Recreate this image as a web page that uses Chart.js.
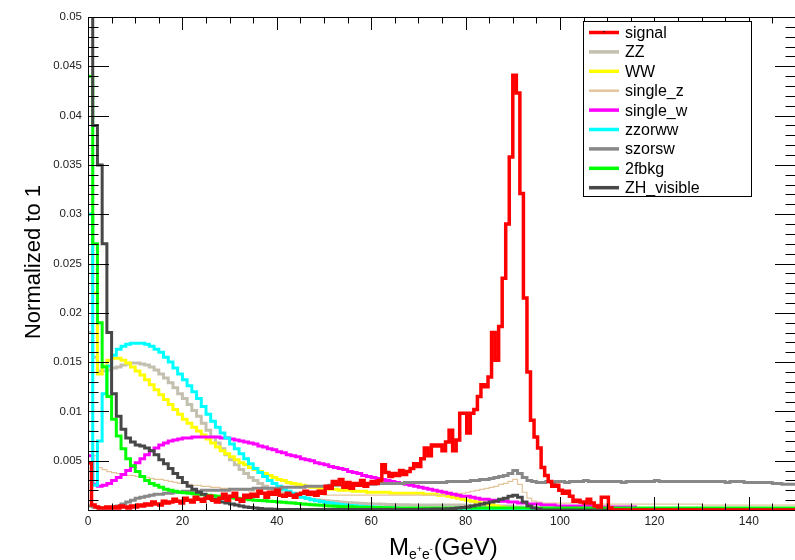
<!DOCTYPE html>
<html><head><meta charset="utf-8">
<script src="https://cdn.jsdelivr.net/npm/chart.js@4/dist/chart.umd.min.js"></script>
<style>html,body{margin:0;padding:0;background:#fff;overflow:hidden}canvas{display:block}</style>
</head><body>
<canvas id="c" width="800" height="560"></canvas>
<script>
// ---------- data ----------
const xRange = [0, 150];
const yRange = [0, 0.05];
const xTickLabels = [0, 20, 40, 60, 80, 100, 120, 140];
const yTickLabels = [0.005, 0.01, 0.015, 0.02, 0.025, 0.03, 0.035, 0.04, 0.045, 0.05];
const signalBinWidth = 0.75;   // GeV
const bkgBinWidth = 1;         // GeV
const seriesNames = ["signal","ZZ","WW","single_z","single_w","zzorww","szorsw","2fbkg","ZH_visible"];

const signal = [
0.0048,0.0005,0.0003,0.0002,0.0002,0.0003,0.0002,0.0003,0.0002,0.0004,0.0003,0.0002,0.0004,0.0003,
0.0005,0.0004,0.0006,0.0005,0.0008,0.0006,0.0005,0.0009,0.0007,
0.0008,0.0011,0.0009,0.0007,0.0012,0.0010,0.0008,0.0013,0.0011,0.0009,0.0012,0.0014,0.0010,0.0008,
0.0012,0.0016,0.0010,0.0014,0.0017,0.0011,0.0009,0.0015,0.0013,
0.0016,0.0014,0.0019,0.0017,0.0013,0.0018,0.0016,0.0020,0.0015,
0.0014,0.0017,0.0015,0.0013,0.0016,
0.0017,0.0019,0.0016,0.0018,0.0015,0.0019,0.0017,
0.0024,0.0022,0.0029,0.0026,0.0031,0.0023,0.0028,
0.0022,0.0027,0.0025,0.0030,0.0024,0.0027,
0.0029,0.0027,0.0030,0.0046,0.0038,0.0034,0.0037,0.0035,0.0040,0.0036,
0.0039,0.0042,0.0047,0.0044,0.0052,0.0063,0.0055,0.0066,0.0065,0.0066,
0.0060,0.0069,0.0081,0.0060,0.0071,0.0098,0.0098,0.0078,0.0098,0.0102,
0.0115,0.0127,0.0125,0.0135,0.0180,0.0152,0.0186,0.0235,0.0290,0.0358,
0.0441,0.0423,0.0321,0.0215,0.0140,0.0091,0.0074,0.0063,0.0043,0.0035,
0.0029,0.0024,0.0025,0.0020,0.0017,0.0019,0.0014,0.0009,0.0010,0.0008,
0.0007,0.0011,0.0007,0.0004,0.0003,0.0013,0.0013,0.0002,0,0,
0,0,0,0,0,0,0,0,0,0, 0,0,0,0,0,0,0,0,0,0, 0,0,0,0,0,0,0,0,0,0,
0,0,0,0,0,0,0,0,0,0, 0,0,0,0,0,0,0,0,0,0
];

const ZZ = [
0.018,0.0155,0.0141,0.0141,0.0142,0.0144,0.0145,0.0147,0.0148,0.0149,
0.0149,0.0148,0.0147,0.0145,0.0142,0.0138,0.0134,0.0129,0.0124,0.0118,
0.0113,0.0107,0.0101,0.0095,0.0088,0.0081,0.0074,0.0068,0.0062,0.0056,
0.0051,0.0046,0.0041,0.0037,0.0033,0.0030,0.0027,0.0024,0.0022,0.0020,
0.0019,0.0017,0.0016,0.0015,0.0014,0.0013,0.0012,0.0011,0.00105,0.0010,
0.00095,0.0009,0.00085,0.0008,0.00077,0.00074,0.0007,0.00068,0.00066,0.00064,
0.00062,0.0006,0.00058,0.00056,0.00055,0.00054,0.00053,0.00052,0.00051,0.0005,
0.0005,0.0005,0.0005,0.0005,0.0005,0.0005,0.0005,0.0005,0.0005,0.0005,
0.00048,0.00046,0.00044,0.00042,0.0004,0.0004,0.0004,0.0004,0.0004,0.0004,
0.0003,0.0003,0.0002,0.0002,0.0001,0.0001,0.0001,0.0001,0.0001,0.0001,
0.0001,0.0001,0.0001,0.0001,0.0001,0.0001,0.0001,0.0001,0.0001,0.0001,
0.0001,0.0001,0.0001,0.0001,0.0001,0.0001,0.0001,0.0001,0.0001,0.0001,
0.0001,0.0001,0.0001,0.0001,0.0001,0.0001,0.0001,0.0001,0.0001,0.0001,
0.0001,0.0001,0.0001,0.0001,0.0001,0.0001,0.0001,0.0001,0.0001,0.0001,
0.0001,0.0001,0.0001,0.0001,0.0001,0.0001,0.0001,0.0001,0.0001,0.0001
];

const WW = [
0.030,0.022,0.0138,0.0146,0.0152,0.0154,0.0154,0.0152,0.0149,0.0145,
0.0141,0.0137,0.0132,0.0127,0.0122,0.0117,0.0112,0.0107,0.0102,0.0097,
0.0092,0.0088,0.0084,0.0080,0.0076,0.0072,0.0068,0.0064,0.0060,0.0057,
0.0054,0.0051,0.0048,0.0046,0.0043,0.0041,0.0039,0.0037,0.0035,0.0033,
0.0031,0.0030,0.0028,0.0027,0.0026,0.0025,0.0024,0.0023,0.0023,0.0022,
0.0022,0.0021,0.0021,0.0020,0.0020,0.0020,0.0019,0.0019,0.0019,0.0018,
0.0018,0.0018,0.0018,0.0018,0.0017,0.0017,0.0017,0.0017,0.0017,0.0017,
0.0017,0.0016,0.0016,0.0016,0.0015,0.0015,0.0014,0.0013,0.0012,0.0011,
0.0010,0.0009,0.0008,0.0007,0.0006,0.0005,0.0004,0.0003,0.0002,0.0001,
0,0,0,0,0,0,0,0,0,0, 0,0,0,0,0,0,0,0,0,0, 0,0,0,0,0,0,0,0,0,0,
0,0,0,0,0,0,0,0,0,0, 0,0,0,0,0,0,0,0,0,0, 0,0,0,0,0,0,0,0,0,0
];

const single_z = [
0.0080,0.0055,0.0043,0.0041,0.0039,0.0038,0.0037,0.0036,0.0035,0.0035,
0.0034,0.0034,0.0033,0.0032,0.0031,0.0031,0.0030,0.0029,0.0028,0.0027,
0.0027,0.0026,0.0025,0.0025,0.0024,0.0024,0.0023,0.0023,0.0022,0.0022,
0.0021,0.0021,0.0020,0.0020,0.0019,0.0019,0.0019,0.0018,0.0018,0.0018,
0.0017,0.0017,0.0017,0.0017,0.0016,0.0016,0.0016,0.0016,0.0016,0.0016,
0.0015,0.0015,0.0015,0.0015,0.0015,0.0015,0.0015,0.0015,0.0015,0.0015,
0.0015,0.0015,0.0015,0.0015,0.0015,0.0015,0.0015,0.0015,0.0015,0.0015,
0.0015,0.0015,0.0015,0.0015,0.0015,0.0015,0.0016,0.0016,0.0017,0.0017,
0.0018,0.0019,0.0020,0.0021,0.0022,0.0023,0.0024,0.0026,0.0027,0.0029,
0.0031,0.0026,0.0018,0.0012,0.0009,0.0008,0.0007,0.0007,0.0007,0.0007,
0.0007,0.0007,0.0007,0.0007,0.0007,0.0007,0.0006,0.0006,0.0006,0.0006,
0.0006,0.0006,0.0006,0.0006,0.0006,0.0006,0.0006,0.0006,0.0006,0.0006,
0.0006,0.0006,0.0006,0.0006,0.0006,0.0006,0.0006,0.0006,0.0006,0.0006,
0.0005,0.0005,0.0005,0.0005,0.0005,0.0005,0.0005,0.0005,0.0005,0.0005,
0.0005,0.0005,0.0005,0.0005,0.0005,0.0005,0.0005,0.0005,0.0005,0.0005
];

const single_w = [
0.0055,0.0026,0.0024,0.0025,0.0027,0.0030,0.0033,0.0036,0.0040,0.0044,
0.0048,0.0052,0.0056,0.0060,0.0063,0.0066,0.0068,0.0070,0.0071,0.0072,
0.0073,0.0073,0.0074,0.0074,0.0074,0.0074,0.0074,0.0074,0.0073,0.0073,
0.0072,0.0071,0.0070,0.0069,0.0068,0.0067,0.0065,0.0064,0.0062,0.0061,
0.0059,0.0058,0.0056,0.0055,0.0054,0.0052,0.0051,0.0050,0.0048,0.0047,
0.0046,0.0044,0.0043,0.0042,0.0041,0.0039,0.0038,0.0037,0.0035,0.0034,
0.0033,0.0032,0.0031,0.0030,0.0029,0.0028,0.0027,0.0026,0.0025,0.0024,
0.0023,0.0022,0.0021,0.0020,0.0019,0.0018,0.0017,0.0016,0.0015,0.0014,
0.0014,0.0013,0.0012,0.0011,0.0011,0.0010,0.0010,0.0009,0.0009,0.0008,
0.0008,0.0007,0.0007,0.0006,0.0006,0.0006,0.0005,0.0005,0.0005,0.0004,
0.0004,0.0004,0.0004,0.0004,0.0004,0.0004,0.0004,0.0004,0.0003,0.0003,
0.0003,0.0003,0.0003,0.0003,0.0003,0.0003,0,0,0,0,
0,0,0,0,0,0,0,0,0,0, 0,0,0,0,0,0,0,0,0,0, 0,0,0,0,0,0,0,0,0,0
];

const zzorww = [
0.030,0.0025,0.0070,0.0118,0.0146,0.0157,0.0163,0.0166,0.0168,0.0169,
0.0169,0.0169,0.0168,0.0166,0.0163,0.0160,0.0155,0.0150,0.0144,0.0138,
0.0132,0.0126,0.0120,0.0113,0.0105,0.0097,0.0090,0.0084,0.0078,0.0073,
0.0067,0.0062,0.0057,0.0052,0.0047,0.0042,0.0038,0.0034,0.0030,0.0027,
0.0024,0.0021,0.0019,0.0017,0.0015,0.0013,0.0012,0.00105,0.00095,0.00085,
0.00077,0.0007,0.00063,0.00057,0.0005,0.00046,0.00042,0.00039,0.00036,0.00033,
0.0003,0.00028,0.00025,0.00023,0.0002,0.00018,0.00016,0.00014,0.00012,0.0001,
0.00008,0.00008,0.00008,0.00008,0.00008,0.00008,0.00008,0.00008,0.00008,0.00008,
0.00008,0.00008,0.00008,0.00008,0.00008,0.00008,0.00008,0.00008,0.00008,0.00008,
0.00008,0.00008,0.00008,0.00008,0.00008,0.00008,0,0,0,0,
0,0,0,0,0,0,0,0,0,0, 0,0,0,0,0,0,0,0,0,0, 0,0,0,0,0,0,0,0,0,0,
0,0,0,0,0,0,0,0,0,0, 0,0,0,0,0,0,0,0,0,0
];

const szorsw = [
0.0004,0.0003,0.0002,0.0002,0.0002,0.0003,0.0004,0.0006,0.0008,0.0010,
0.0012,0.0013,0.0014,0.0015,0.0016,0.0016,0.0017,0.0017,0.0018,0.0018,
0.0019,0.0019,0.0019,0.0019,0.0020,0.0020,0.0020,0.0020,0.0020,0.0020,
0.0021,0.0021,0.0021,0.0021,0.0021,0.0022,0.0022,0.0022,0.0022,0.0022,
0.0022,0.0023,0.0023,0.0023,0.0023,0.0023,0.0024,0.0024,0.0024,0.0024,
0.0024,0.0025,0.0025,0.0025,0.0025,0.0026,0.0026,0.0026,0.0026,0.0026,
0.0026,0.0027,0.0027,0.0027,0.0027,0.0027,0.0027,0.0028,0.0028,0.0028,
0.0028,0.0028,0.0028,0.0028,0.0028,0.0028,0.0029,0.0029,0.0029,0.0029,
0.0029,0.0030,0.0030,0.0031,0.0031,0.0032,0.0033,0.0034,0.0035,0.0037,
0.0040,0.0037,0.0033,0.0030,0.0029,0.0028,0.0028,0.0029,0.0028,0.0029,
0.0029,0.0028,0.0029,0.0029,0.0029,0.0030,0.0029,0.0029,0.0029,0.0029,
0.0029,0.0029,0.0029,0.0028,0.0029,0.0029,0.0029,0.0029,0.0029,0.0029,
0.0030,0.0029,0.0029,0.0029,0.0029,0.0029,0.0029,0.0029,0.0029,0.0029,
0.0029,0.0029,0.0029,0.0029,0.0029,0.0028,0.0029,0.0029,0.0029,0.0028,
0.0028,0.0028,0.0028,0.0028,0.0028,0.0027,0.0027,0.0026,0.0026,0.0026
];

const bkg2f = [
0.044,0.027,0.019,0.0145,0.0115,0.0092,0.0075,0.0062,0.0052,0.0045,
0.0039,0.0034,0.0030,0.0027,0.0025,0.0023,0.0021,0.0020,0.0019,0.0018,
0.00175,0.0017,0.00165,0.0016,0.00155,0.0015,0.00145,0.0014,0.00135,0.0013,
0.00125,0.0012,0.00115,0.0011,0.00105,0.0010,0.00097,0.00093,0.0009,0.00086,
0.00082,0.00078,0.00074,0.0007,0.00066,0.00062,0.00058,0.00054,0.0005,0.00047,
0.00044,0.00041,0.00038,0.00036,0.00034,0.00032,0.0003,0.00029,0.00028,0.00027,
0.00026,0.00025,0.00024,0.00023,0.00022,0.0002,0.0002,0.0002,0.0002,0.0002,
0.0002,0.0002,0.0002,0.0002,0.0002,0.0002,0.0002,0.0002,0.0002,0.0002,
0.0002,0.0002,0.0002,0.0002,0.0002,0.0002,0.0002,0.0002,0.0002,0.0002,
0.0002,0.0002,0.0002,0.0002,0.0002,0.0002,0.0002,0.0002,0.0002,0.0002,
0.0002,0.0002,0.0002,0.0002,0.0002,0.0002,0.0002,0.0002,0.0002,0.0002,
0.0002,0.0002,0.0002,0.0002,0.0002,0.0002,0.0002,0.0002,0.0002,0.0002,
0.0002,0.0002,0.0002,0.0002,0.0002,0.0002,0.0002,0.0002,0.0002,0.0002,
0.0002,0.0002,0.0002,0.0002,0.0002,0.0002,0.0002,0.0002,0.0002,0.0002,
0.0002,0.0002,0.0002,0.0002,0.0002,0.0002,0.0002,0.0002,0.0002,0.0002
];

const ZH_visible = [
0.060,0.039,0.035,0.027,0.018,0.0118,0.0095,0.0082,0.0073,0.0069,
0.0066,0.0065,0.0063,0.0060,0.0056,0.0051,0.0047,0.0042,0.0037,0.0033,
0.0028,0.0024,0.0021,0.0018,0.0016,0.0013,0.0011,0.0010,0.0008,0.0007,
0.0006,0.0005,0.0004,0.0003,0.00025,0.0002,0.00015,0.0001,0.0001,0.00008,
0.00005,0.00005,0.00005,0.00005,0.00005,0.00005,0.00005,0.00005,0.00005,0.00005,
0.00005,0.00005,0.00005,0.00005,0.00005,0.00005,0.00005,0.00005,0.00005,0.00005,
0.00005,0.00005,0.00005,0.00005,0.00005,0.00005,0.00005,0.00005,0.00005,0.00005,
0.00006,0.00007,0.00008,0.00009,0.0001,0.0001,0.00012,0.00015,0.0002,0.00025,
0.0003,0.0004,0.0005,0.0006,0.0007,0.0008,0.0009,0.0011,0.0012,0.0014,
0.0015,0.0013,0.0008,0.0004,0.0002,0.0001,0,0,0,0,
0,0,0,0,0,0,0,0,0,0, 0,0,0,0,0,0,0,0,0,0, 0,0,0,0,0,0,0,0,0,0,
0,0,0,0,0,0,0,0,0,0, 0,0,0,0,0,0,0,0,0,0
];

// ---------- styling ----------
const FONT = '"Liberation Sans", Arial, Helvetica, sans-serif';
const styles = {
  "signal":     {color:"#ff0000", width:3.5, order:0, lw:3.5},
  "ZZ":         {color:"#c3c0af", width:3,   order:8, lw:3.5},
  "WW":         {color:"#ffff00", width:3,   order:7, lw:3.5},
  "single_z":   {color:"#e3c59c", width:1.2, order:6, lw:2.5},
  "single_w":   {color:"#ff00ff", width:3,   order:5, lw:3.5},
  "zzorww":     {color:"#00ffff", width:3,   order:4, lw:3.5},
  "szorsw":     {color:"#888888", width:3,   order:3, lw:3.5},
  "2fbkg":      {color:"#00ff00", width:3,   order:2, lw:3.5},
  "ZH_visible": {color:"#474747", width:3,   order:1, lw:3.5}
};
const seriesValues = [signal, ZZ, WW, single_z, single_w, zzorww, szorsw, bkg2f, ZH_visible];

function histPoints(vals, w) {
  const pts = vals.map((v, i) => ({x: i * w, y: v}));
  pts.push({x: vals.length * w, y: vals[vals.length - 1]});
  return pts;
}

const datasets = seriesNames.map((name, k) => ({
  label: name,
  data: histPoints(seriesValues[k], k === 0 ? signalBinWidth : bkgBinWidth),
  borderColor: styles[name].color,
  backgroundColor: styles[name].color,
  borderWidth: styles[name].width,
  stepped: 'before',
  pointRadius: 0,
  fill: false,
  order: styles[name].order,
  borderJoinStyle: 'miter',
  borderCapStyle: 'butt'
}));

// frame + ticks drawn in ROOT style (inside ticks on all 4 sides)
const frameTicks = {
  id: 'frameTicks',
  afterDatasetsDraw(chart) {
    const {ctx, chartArea: a, scales: {x, y}} = chart;
    ctx.save();
    ctx.strokeStyle = '#000';
    ctx.lineWidth = 1;
    ctx.strokeRect(Math.round(a.left) + 0.5, Math.round(a.top) + 0.5, Math.round(a.right - a.left), Math.round(a.bottom - a.top));
    ctx.beginPath();
    for (let v = xRange[0]; v <= xRange[1] + 1e-9; v += 5) {
      const px = Math.round(x.getPixelForValue(v)) + 0.5;
      const L = (v % 20 === 0) ? 13 : 6.5;
      ctx.moveTo(px, a.bottom); ctx.lineTo(px, a.bottom - L);
      ctx.moveTo(px, a.top); ctx.lineTo(px, a.top + L);
    }
    for (let k = 0; k <= 50; k++) {
      const v = k * 0.001;
      const py = Math.round(y.getPixelForValue(v)) + 0.5;
      const L = (k % 5 === 0) ? 21 : 10.5;
      ctx.moveTo(a.left, py); ctx.lineTo(a.left + L, py);
      ctx.moveTo(a.right, py); ctx.lineTo(a.right - L, py);
    }
    ctx.stroke();
    ctx.restore();
  }
};

const titlesLegend = {
  id: 'titlesLegend',
  afterDraw(chart) {
    const ctx = chart.ctx;
    ctx.save();
    // y title
    ctx.fillStyle = '#000';
    ctx.translate(40, 262);
    ctx.rotate(-Math.PI / 2);
    ctx.font = '22px ' + FONT;
    ctx.textAlign = 'center';
    ctx.textBaseline = 'alphabetic';
    ctx.fillText('Normalized to 1', 0, 0);
    ctx.restore();

    // x title  M_{e+e-}(GeV)
    ctx.save();
    ctx.fillStyle = '#000';
    ctx.textAlign = 'left';
    ctx.textBaseline = 'alphabetic';
    let xx = 389, base = 555;
    ctx.font = '24px ' + FONT; ctx.fillText('M', xx, base); xx += ctx.measureText('M').width;
    ctx.font = '14px ' + FONT; ctx.fillText('e', xx, base + 4); xx += ctx.measureText('e').width;
    ctx.font = '9px ' + FONT; ctx.fillText('+', xx, base - 3); xx += ctx.measureText('+').width;
    ctx.font = '14px ' + FONT; ctx.fillText('e', xx, base + 4); xx += ctx.measureText('e').width;
    ctx.font = '9px ' + FONT; ctx.fillText('-', xx, base - 3); xx += ctx.measureText('-').width + 1;
    ctx.font = '24px ' + FONT; ctx.fillText('(GeV)', xx, base);
    ctx.restore();

    // legend
    ctx.save();
    const bx = 583.5, by = 21.5, bw = 168, bh = 175;
    ctx.fillStyle = '#fff';
    ctx.fillRect(bx, by, bw, bh);
    ctx.strokeStyle = '#000';
    ctx.lineWidth = 1;
    ctx.strokeRect(bx, by, bw, bh);
    ctx.font = '16px ' + FONT;
    ctx.textBaseline = 'middle';
    seriesNames.forEach((name, k) => {
      const yy = 32.5 + k * 19.4;
      ctx.strokeStyle = styles[name].color;
      ctx.lineWidth = styles[name].lw;
      ctx.beginPath(); ctx.moveTo(589, yy); ctx.lineTo(619, yy); ctx.stroke();
      if (k === 0) { ctx.fillStyle = '#000'; ctx.fillRect(603.5, yy - 1.5, 1.2, 1.2); }
      ctx.fillStyle = '#000';
      ctx.fillText(name, 625, yy + 1);
    });
    ctx.restore();
  }
};

new Chart(document.getElementById('c'), {
  type: 'line',
  data: {datasets},
  options: {
    responsive: false,
    devicePixelRatio: 1,
    animation: false,
    events: [],
    layout: {padding: {top: 17, right: 4, bottom: 0, left: 0}},
    plugins: {legend: {display: false}, tooltip: {enabled: false}},
    scales: {
      x: {
        type: 'linear', min: xRange[0], max: xRange[1],
        grid: {display: false, drawTicks: false}, border: {display: false},
        ticks: {stepSize: 20, padding: 4, maxRotation: 0, autoSkip: false, color: '#222',
                font: {family: FONT, size: 12}},
        afterBuildTicks: s => { s.ticks = xTickLabels.map(v => ({value: v})); },
        afterFit: s => { s.height = 50; }
      },
      y: {
        type: 'linear', min: yRange[0], max: yRange[1],
        grid: {display: false, drawTicks: false}, border: {display: false},
        ticks: {padding: 6, color: '#222', font: {family: FONT, size: 11.5},
                callback: v => String(+v.toFixed(3))},
        afterBuildTicks: s => { s.ticks = yTickLabels.map(v => ({value: v})); },
        afterFit: s => { s.width = 88; }
      }
    }
  },
  plugins: [frameTicks, titlesLegend]
});
</script>
</body></html>
